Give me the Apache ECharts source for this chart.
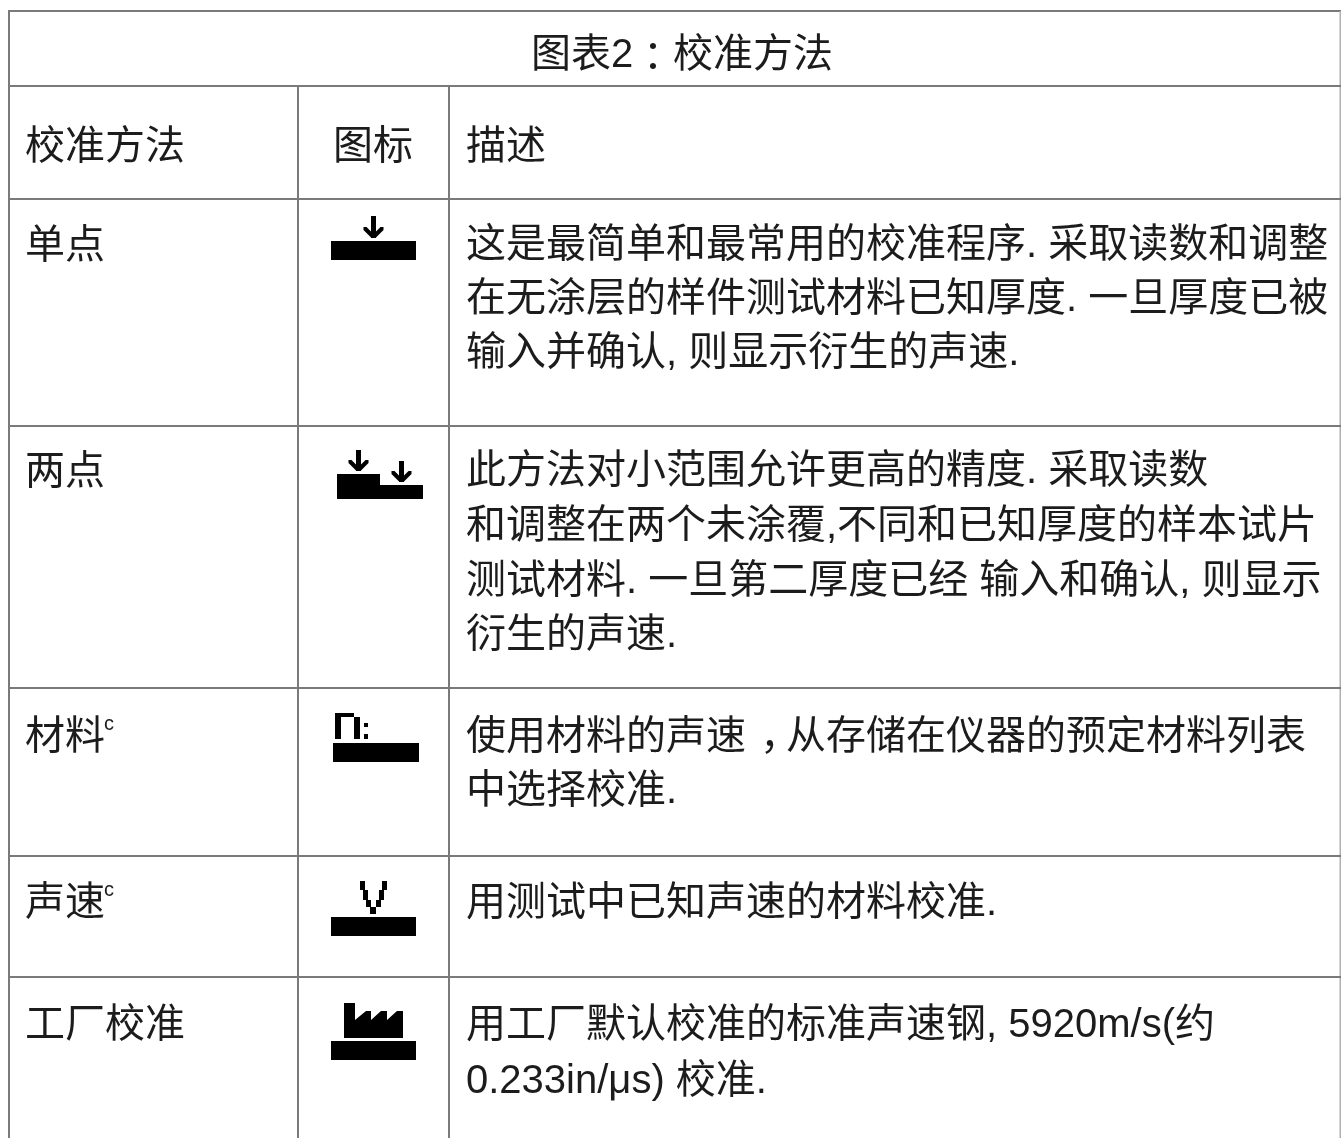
<!DOCTYPE html>
<html><head><meta charset="utf-8">
<style>html,body{margin:0;padding:0;background:#fff}#c{width:1341px;height:1138px}</style>
<script src="https://cdn.jsdelivr.net/npm/echarts@6/dist/echarts.min.js"></script>
</head><body><div id="c"></div>
<script>
const title = "图表2：校准方法";
const headers = ["校准方法", "图标", "描述"];
const methods = ["单点", "两点", "材料", "声速", "工厂校准"];
const superscripts = ["", "", "c", "c", ""];
const descriptions = [
  ["这是最简单和最常用的校准程序. 采取读数和调整", "在无涂层的样件测试材料已知厚度. 一旦厚度已被", "输入并确认, 则显示衍生的声速."],
  ["此方法对小范围允许更高的精度. 采取读数", "和调整在两个未涂覆,不同和已知厚度的样本试片", "测试材料. 一旦第二厚度已经 输入和确认, 则显示", "衍生的声速."],
  ["使用材料的声速，从存储在仪器的预定材料列表", "中选择校准."],
  ["用测试中已知声速的材料校准."],
  ["用工厂默认校准的标准声速钢, 5920m/s(约", "0.233in/μs) 校准."]
];

const FONT = '"Liberation Sans","Noto Sans CJK SC",sans-serif';
const FONT_TC = '"Noto Sans CJK TC",sans-serif';
const TEXT = '#1c1c1c', LINE = '#7a7a7a', INK = '#000';
const FS = 40;
const DY = 3;
const g = [];
function line(x1, y1, x2, y2, c) {
  g.push({type:'line', shape:{x1,y1,x2,y2}, style:{stroke:c||LINE, lineWidth:2}, silent:true});
}
function text(s, x, y, align, size) {
  const font = `${size||FS}px ${FONT}`;
  const style = {fill:TEXT, font, textAlign:align||'left', textVerticalAlign:'middle'};
  if (/[：，]/.test(s)) {
    // full-width punctuation sits mid-cell in the reference
    const tag = p => p === '：' ? 'colon' : p === '，' ? 'comma' : 'base';
    style.text = s.split(/([：，])/).filter(Boolean).map(p => `{${tag(p)}|${p}}`).join('');
    style.rich = {
      base:{font, fill:TEXT, verticalAlign:'middle'},
      colon:{font:`${size||FS}px ${FONT_TC}`, fill:TEXT, verticalAlign:'middle'},
      comma:{font, fill:TEXT, verticalAlign:'middle', width:40, padding:[0,-14,0,14]}
    };
  } else {
    style.text = s;
  }
  g.push({type:'text', x, y:y+DY, style, silent:true});
}
function rect(x, y, w, h) {
  g.push({type:'rect', shape:{x,y,width:w,height:h}, style:{fill:INK}, silent:true});
}
function poly(points) {
  g.push({type:'polygon', shape:{points}, style:{fill:INK}, silent:true});
}
function arrow(cx, top, bottom) {
  rect(cx-2.5, top, 5, bottom-top);
  poly([[cx-10,bottom-11],[cx-7,bottom-11],[cx,bottom-4],[cx+7,bottom-11],[cx+10,bottom-11],[cx+10,bottom-8],[cx+2,bottom],[cx-2,bottom],[cx-10,bottom-8]]);
}

// grid
const rowY = [86, 199, 426, 688, 856, 977];
const colX = [298, 449];
line(8, 11, 1341, 11);
line(9, 11, 9, 1138);
line(1340.5, 11, 1340.5, 1138, '#b0b0b0');
rowY.forEach(y => line(9, y, 1341, y));
colX.forEach(x => line(x, 86, x, 1138));

// text
text(title, 682, 53, 'center');
text(headers[0], 25, 145);
text(headers[1], 373, 145, 'center');
text(headers[2], 466, 145);
const labelY = [244, 470, 735, 901, 1023];
const supX = [0, 0, 104, 104, 0];
const lineY = [[243,297,351],[469,524,579,633],[735,789],[901],[1023,1079]];
methods.forEach((m, i) => {
  text(m, 25, labelY[i]);
  if (superscripts[i]) text(superscripts[i], supX[i], labelY[i]-14, 'left', 20);
  descriptions[i].forEach((l, j) => text(l, 466, lineY[i][j]));
});

// icons
rect(331,241,85,19); arrow(373.5,216,238);
rect(337,474,43,25); rect(380,485,43,14); arrow(358.5,450,471); arrow(401.5,461,482);
rect(333,743,86,19); rect(335,713,6,26); rect(341,713,13,4); rect(354,717,6,22); rect(364,723,4,4); rect(364,734,4,5);
rect(331,917,85,19);
[[360,881,5,9],[363,890,5,10],[366,900,5,7],[370,907,6,7],[382,881,5,9],[379,890,5,10],[376,900,5,7]].forEach(r=>rect(...r));
rect(331,1041,85,19);
poly([[344,1003],[355,1003],[355,1020],[366,1011],[371,1011],[371,1020],[381,1011],[387,1011],[387,1020],[397,1011],[403,1011],[403,1038],[344,1038]]);

const chart = echarts.init(document.getElementById('c'), null, {renderer:'canvas', width:1341, height:1138});
chart.setOption({backgroundColor:'#fff', animation:false, graphic:{elements:g}});
</script></body></html>
